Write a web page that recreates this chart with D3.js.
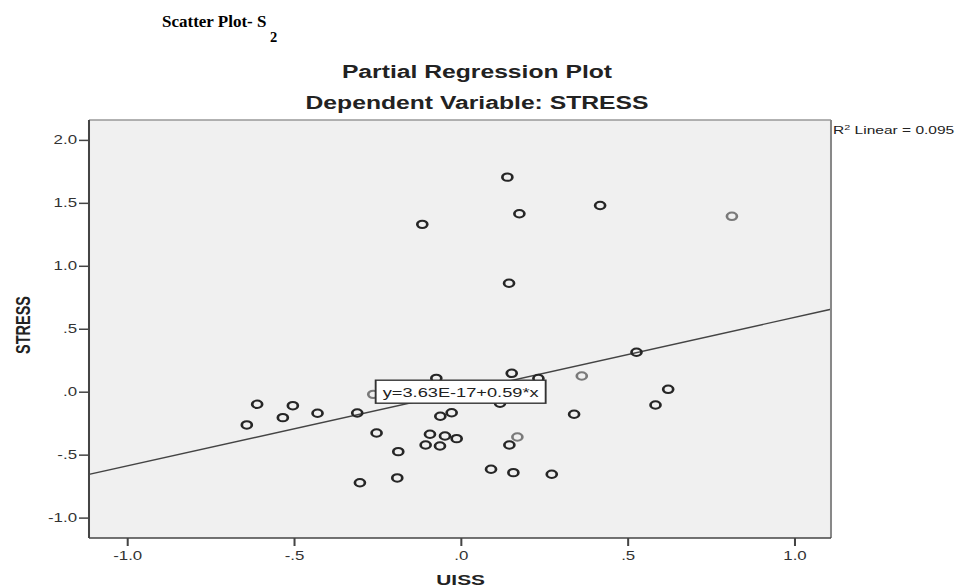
<!DOCTYPE html>
<html>
<head>
<meta charset="utf-8">
<script src="https://cdn.jsdelivr.net/npm/d3@7"></script>
<style>
  html, body { margin: 0; padding: 0; background: #fff; }
  svg { display: block; }
</style>
</head>
<body>
<div id="chart"></div>
<script>
// Partial regression data: UISS (x) vs STRESS (y) residuals
const uissValues = [
  0.140, -0.115, 0.176, 0.418, 0.813, 0.145, 0.527,
  -0.610, -0.503, -0.641, -0.533, -0.429, -0.310, -0.262,
  -0.073, -0.252, -0.061, -0.027, -0.092, -0.047, -0.012,
  -0.105, -0.062, -0.187, 0.091, -0.190, -0.302,
  0.153, 0.233, 0.118, 0.363, 0.622, 0.584, 0.340,
  0.170, 0.146, 0.158, 0.273
];
const stressValues = [
  1.704, 1.329, 1.413, 1.479, 1.393, 0.861, 0.313,
  -0.100, -0.111, -0.264, -0.206, -0.171, -0.169, -0.021,
  0.106, -0.328, -0.195, -0.167, -0.338, -0.352, -0.373,
  -0.423, -0.431, -0.476, -0.616, -0.685, -0.723,
  0.146, 0.105, -0.092, 0.125, 0.019, -0.106, -0.179,
  -0.360, -0.423, -0.643, -0.656
];

// Fit line and annotation values
const fitIntercept = 3.63e-17;
const fitSlope = 0.59;
const fitLabel = "y=3.63E-17+0.59*x";
const rSquaredText = "0.095";

// Axis ticks
const xTicks = [-1.0, -0.5, 0.0, 0.5, 1.0];
const xTickLabels = ["-1.0", "-.5", ".0", ".5", "1.0"];
const yTicks = [-1.0, -0.5, 0.0, 0.5, 1.0, 1.5, 2.0];
const yTickLabels = ["-1.0", "-.5", ".0", ".5", "1.0", "1.5", "2.0"];

const titleLine1 = "Partial Regression Plot";
const titleLine2 = "Dependent Variable: STRESS";
const xTitle = "UISS";
const yTitle = "STRESS";

// ---------------------------------------------------------------
(function draw() {
  const W = 966, H = 587;
  const SX = 1.35;                 // horizontal stretch of the chart body
  const FONT = "'Liberation Sans', Arial, Helvetica, sans-serif";

  const svg = d3.select("#chart").append("svg")
    .attr("width", W).attr("height", H);

  svg.append("rect").attr("width", W).attr("height", H).attr("fill", "#fff");

  // Caption above the chart
  svg.append("text")
    .attr("x", 162).attr("y", 27)
    .attr("font-family", "'Liberation Serif', 'Times New Roman', serif")
    .attr("font-weight", "bold").attr("font-size", 17).attr("fill", "#000")
    .text("Scatter Plot- S");
  svg.append("text")
    .attr("x", 270).attr("y", 42)
    .attr("font-family", "'Liberation Serif', 'Times New Roman', serif")
    .attr("font-weight", "bold").attr("font-size", 14.5).attr("fill", "#000")
    .text("2");

  // Chart body, drawn in a horizontally stretched frame
  const g = svg.append("g").attr("transform", `scale(${SX},1)`);

  const pLeft = 89 / SX, pRight = 831 / SX, pTop = 120, pBottom = 538;

  const x = d3.scaleLinear().domain([-1.114, 1.11]).range([pLeft, pRight]);
  const y = d3.scaleLinear().domain([-1.162, 2.158]).range([pBottom, pTop]);

  // Plot background
  g.append("rect")
    .attr("x", pLeft).attr("y", pTop)
    .attr("width", pRight - pLeft).attr("height", pBottom - pTop)
    .attr("fill", "#f0f0f0");

  // Titles
  g.append("text")
    .attr("x", 477 / SX).attr("y", 78)
    .attr("text-anchor", "middle")
    .attr("font-family", FONT).attr("font-weight", "bold").attr("font-size", 18.3)
    .attr("fill", "#222").text(titleLine1);
  g.append("text")
    .attr("x", 477 / SX).attr("y", 109)
    .attr("text-anchor", "middle")
    .attr("font-family", FONT).attr("font-weight", "bold").attr("font-size", 18.3)
    .attr("fill", "#222").text(titleLine2);

  // Fit line
  const plot = g.append("g");
  const [x0, x1] = x.domain();
  plot.append("line")
    .attr("x1", x(x0)).attr("y1", y(fitIntercept + fitSlope * x0))
    .attr("x2", x(x1)).attr("y2", y(fitIntercept + fitSlope * x1))
    .attr("stroke", "#444").attr("stroke-width", 1.4);

  // Points
  const points = uissValues.map((u, i) => ({ u, s: stressValues[i], i }));
  const lighterPoints = new Set([4, 13, 30, 34]);
  plot.selectAll("circle.pt").data(points).join("circle")
    .attr("class", "pt")
    .attr("cx", d => x(d.u)).attr("cy", d => y(d.s))
    .attr("r", 3.7)
    .attr("fill", "none")
    .attr("stroke", d => lighterPoints.has(d.i) ? "#7a7a7a" : "#262626")
    .attr("stroke-width", 2);

  // Frame: light top/right edges, dark axis lines
  g.append("line").attr("x1", pLeft).attr("x2", pRight).attr("y1", pTop).attr("y2", pTop)
    .attr("stroke", "#999").attr("stroke-width", 1.5);
  g.append("line").attr("x1", pRight).attr("x2", pRight).attr("y1", pTop).attr("y2", pBottom)
    .attr("stroke", "#888").attr("stroke-width", 1.5);
  g.append("line").attr("x1", pLeft).attr("x2", pRight).attr("y1", pBottom).attr("y2", pBottom)
    .attr("stroke", "#444").attr("stroke-width", 1.5);
  g.append("line").attr("x1", pLeft).attr("x2", pLeft).attr("y1", pTop).attr("y2", pBottom)
    .attr("stroke", "#444").attr("stroke-width", 1.5);

  // Y axis
  const yAxis = g.append("g")
    .attr("transform", `translate(${pLeft},0)`)
    .call(d3.axisLeft(y).tickValues(yTicks)
      .tickFormat((d, i) => yTickLabels[i])
      .tickSize(10 / SX).tickSizeOuter(0).tickPadding(2 / SX));
  yAxis.select(".domain").remove();
  yAxis.selectAll(".tick line").attr("stroke", "#444").attr("stroke-width", 1.5);
  yAxis.selectAll(".tick text")
    .attr("font-family", FONT).attr("font-size", 12.5).attr("fill", "#333");

  // X axis
  const xAxis = g.append("g")
    .attr("transform", `translate(0,${pBottom})`)
    .call(d3.axisBottom(x).tickValues(xTicks)
      .tickFormat((d, i) => xTickLabels[i])
      .tickSize(8).tickSizeOuter(0).tickPadding(5));
  xAxis.select(".domain").remove();
  xAxis.selectAll(".tick line").attr("stroke", "#444").attr("stroke-width", 1.5);
  xAxis.selectAll(".tick text")
    .attr("font-family", FONT).attr("font-size", 12.5).attr("fill", "#333");

  // Axis titles
  g.append("text")
    .attr("x", x(0)).attr("y", 585)
    .attr("text-anchor", "middle")
    .attr("font-family", FONT).attr("font-weight", "bold").attr("font-size", 15.5)
    .attr("fill", "#222").text(xTitle);
  g.append("text")
    .attr("transform", `translate(${30 / SX},325) rotate(-90)`)
    .attr("text-anchor", "middle")
    .attr("font-family", FONT).attr("font-weight", "bold").attr("font-size", 14.5)
    .attr("fill", "#222").text(yTitle);

  // R-squared note beside the frame
  const r2 = g.append("text")
    .attr("x", 833 / SX).attr("y", 134)
    .attr("font-family", FONT).attr("font-size", 11.5).attr("fill", "#222");
  r2.append("tspan").text("R");
  r2.append("tspan").attr("font-size", 8).attr("dy", -4).text("2");
  r2.append("tspan").attr("dy", 4).text(" Linear = " + rSquaredText);

  // Equation label centred on the fit line at the mean
  const boxW = 170 / SX, boxH = 23;
  const lx = x(0), ly = y(fitIntercept);
  g.append("rect")
    .attr("x", lx - boxW / 2).attr("y", ly - boxH / 2)
    .attr("width", boxW).attr("height", boxH)
    .attr("fill", "#fff").attr("stroke", "#333").attr("stroke-width", 1.4);
  g.append("text")
    .attr("x", lx).attr("y", ly)
    .attr("text-anchor", "middle").attr("dominant-baseline", "central")
    .attr("font-family", FONT).attr("font-size", 13.5).attr("fill", "#222")
    .text(fitLabel);
})();
</script>
</body>
</html>
